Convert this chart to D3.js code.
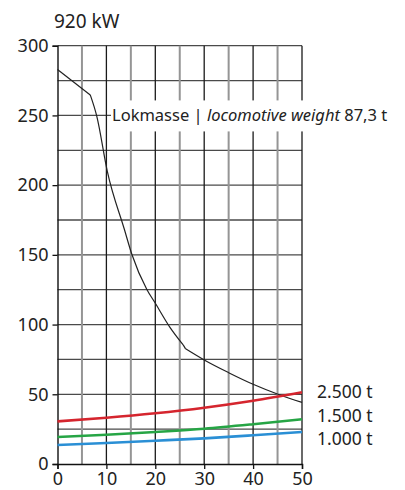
<!DOCTYPE html>
<html>
<head>
<meta charset="utf-8">
<script src="https://cdn.jsdelivr.net/npm/d3@7"></script>
<style>
  html, body { margin: 0; padding: 0; background: #fff; }
  svg { display: block; font-family: "Noto Sans", "DejaVu Sans", sans-serif; }
</style>
</head>
<body>
<svg id="chart" width="405" height="490"></svg>
<script>
// Speed in km/h along x, tractive force in kN along y
const title = "920 kW";
const xTicks = [0, 10, 20, 30, 40, 50];
const yTicks = [0, 50, 100, 150, 200, 250, 300];
const xGrid = [5, 10, 15, 20, 25, 30, 35, 40, 45, 50];
const yGrid = [25, 50, 75, 100, 125, 150, 175, 200, 225, 250, 275, 300];

// Tractive effort curve of the locomotive
const effortSpeed = [0, 6.7, 8.05, 10.2, 13.7, 15.2, 18.3, 20, 23, 25.7, 26.2, 30, 35, 40, 45.5, 50];
const effortForce = [283, 264.7, 249.2, 209.7, 168, 150.4, 125, 115.3, 98, 85.4, 82.6, 74.6, 65.5, 57.2, 49.5, 44.2];
// indices where the curve has a corner
const effortCorners = [1, 9, 10];
const effortLabel = ["Lokmasse | ", "locomotive weight", " 87,3 t"];

// Train resistance for three trailing loads
const loadSpeed = [0, 10, 20, 30, 40, 50];
const loadNames = ["2.500 t", "1.500 t", "1.000 t"];
const load2500 = [30.6, 33.2, 36.4, 40.4, 45.4, 51.4];
const load1500 = [19.4, 21.0, 23.0, 25.3, 28.5, 32.1];
const load1000 = [13.6, 15.1, 16.7, 18.4, 20.6, 23.0];
const loadColors = ["#d5252e", "#26a545", "#2a8fd5"];

const svg = d3.select("#chart");
const x = d3.scaleLinear().domain([0, 50]).range([57.5, 302]);
const y = d3.scaleLinear().domain([0, 300]).range([464, 45.7]);

// Grid
const grid = svg.append("g");
grid.selectAll("line.h").data(yGrid).join("line")
  .attr("x1", x(0)).attr("x2", x(50))
  .attr("y1", d => y(d)).attr("y2", d => y(d))
  .attr("stroke", "#4a4a4a").attr("stroke-width", 1.3);
grid.selectAll("line.v").data(xGrid).join("line")
  .attr("y1", y(0)).attr("y2", y(300))
  .attr("x1", d => x(d)).attr("x2", d => x(d))
  .attr("stroke", d => d % 10 === 0 ? "#1a1a1a" : "#959595")
  .attr("stroke-width", d => d % 10 === 0 ? 1.3 : 2);

// Axes
const xAxis = svg.append("g").attr("transform", `translate(0,${y(0)})`)
  .call(d3.axisBottom(x).tickValues(xTicks).tickSize(5).tickPadding(3));
const yAxis = svg.append("g").attr("transform", `translate(${x(0)},0)`)
  .call(d3.axisLeft(y).tickValues(yTicks).tickSize(5).tickPadding(4));
[xAxis, yAxis].forEach(a => {
  a.selectAll("path").attr("stroke", "#111").attr("stroke-width", 1.4);
  a.selectAll("line").attr("stroke", "#111").attr("stroke-width", 1.3);
  a.selectAll("text").attr("font-size", 18).attr("fill", "#222")
    .attr("font-family", "'Noto Sans', sans-serif");
});

// Label box for the effort curve
const labelG = svg.append("g");
const labelText = labelG.append("text")
  .attr("x", 112).attr("y", y(250)).attr("dy", "0.35em")
  .attr("font-size", 16.5).attr("fill", "#222");
effortLabel.forEach((t, i) => {
  labelText.append("tspan").text(t).attr("font-style", i === 1 ? "italic" : "normal");
});
const bb = labelText.node().getBBox();
labelG.insert("rect", "text")
  .attr("x", bb.x - 1).attr("y", y(250) - 15)
  .attr("width", x(50) - bb.x + 2).attr("height", 31)
  .attr("fill", "#fff");

// Effort curve: smooth between corners, sharp at the corners
const effortPts = effortSpeed.map((s, i) => [s, effortForce[i]]);
const cuts = [0, ...effortCorners, effortPts.length - 1];
const smooth = d3.line().x(d => x(d[0])).y(d => y(d[1])).curve(d3.curveMonotoneX);
for (let k = 0; k < cuts.length - 1; k++) {
  svg.append("path")
    .datum(effortPts.slice(cuts[k], cuts[k + 1] + 1))
    .attr("fill", "none").attr("stroke", "#222").attr("stroke-width", 1.2)
    .attr("stroke-linejoin", "round")
    .attr("d", smooth);
}

// Resistance curves
const loads = [load2500, load1500, load1000];
loads.forEach((vals, i) => {
  svg.append("path")
    .datum(loadSpeed.map((s, j) => [s, vals[j]]))
    .attr("fill", "none").attr("stroke", loadColors[i]).attr("stroke-width", 2.6)
    .attr("d", smooth);
});

// Load labels
const labelY = [391.7, 416, 439.3];
loadNames.forEach((n, i) => {
  svg.append("text").attr("x", 317).attr("y", labelY[i]).attr("dy", "0.35em")
    .attr("font-size", 17.5).attr("fill", "#222").text(n);
});

// Title
svg.append("text").attr("x", 54).attr("y", 27.5)
  .attr("font-size", 19).attr("fill", "#222").text(title);
</script>
</body>
</html>
